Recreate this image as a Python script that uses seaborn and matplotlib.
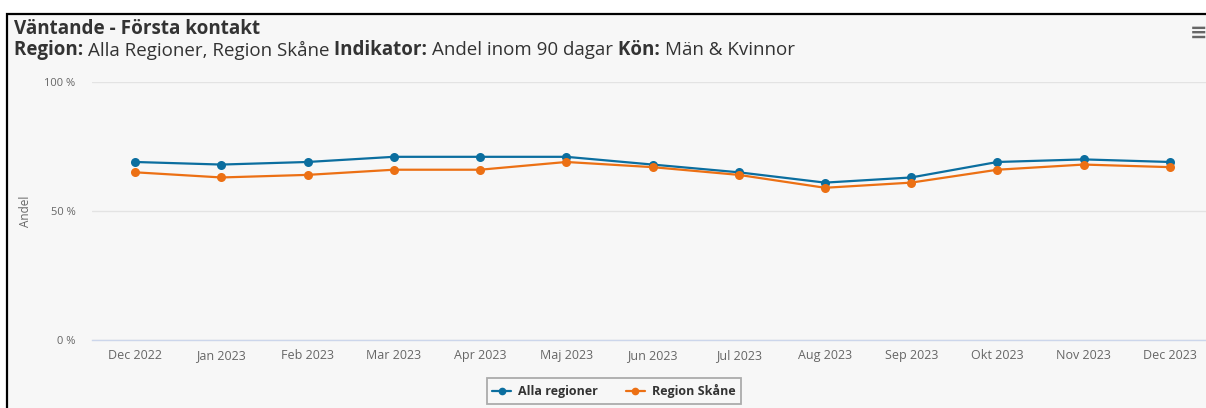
import pandas as pd
import matplotlib.pyplot as plt
import seaborn as sns
from matplotlib.patches import Rectangle
from matplotlib.lines import Line2D

months = ['Dec 2022', 'Jan 2023', 'Feb 2023', 'Mar 2023', 'Apr 2023', 'Maj 2023',
          'Jun 2023', 'Jul 2023', 'Aug 2023', 'Sep 2023', 'Okt 2023', 'Nov 2023', 'Dec 2023']
alla_regioner = [69, 68, 69, 71, 71, 71, 68, 65, 61, 63, 69, 70, 69]
region_skane = [65, 63, 64, 66, 66, 69, 67, 64, 59, 61, 66, 68, 67]
series_names = ['Alla regioner', 'Region Skåne']
colors = ['#0b6e9f', '#ec7014']
ytick_vals = [0, 50, 100]
ytick_labels = ['0 %', '50 %', '100 %']

df = pd.concat([
    pd.DataFrame({'Månad': months, 'Andel': alla_regioner, 'Serie': series_names[0]}),
    pd.DataFrame({'Månad': months, 'Andel': region_skane, 'Serie': series_names[1]}),
])

sns.set_style('white')
plt.rcParams['font.family'] = ['Open Sans', 'DejaVu Sans']

W, H = 1206, 408
fig = plt.figure(figsize=(W / 100, H / 100), dpi=100, facecolor='white')
bg = '#f7f7f7'
fig.patches.append(Rectangle((7 / W, -0.1), 1.2, (H - 14) / H + 0.1, transform=fig.transFigure,
                             facecolor=bg, edgecolor='black', linewidth=1.6, zorder=-5))

ax = fig.add_axes([92 / W, 68 / H, 1121 / W, 258 / H])
ax.set_facecolor(bg)
sns.lineplot(data=df, x='Månad', y='Andel', hue='Serie', palette=colors, marker='o',
             markersize=6.5, markeredgewidth=0, linewidth=1.6, sort=False, legend=False, ax=ax)

ax.set_xlim(-0.5, len(months) - 0.5)
ax.set_ylim(0, 100)
ax.set_yticks(ytick_vals)
ax.set_yticklabels(ytick_labels)
ax.yaxis.grid(True, color='#e3e3e3', linewidth=1)
ax.set_axisbelow(True)
for s in ['top', 'right', 'left']:
    ax.spines[s].set_visible(False)
ax.spines['bottom'].set_color('#ccd6eb')
ax.spines['bottom'].set_linewidth(1)
ax.tick_params(axis='y', length=0, pad=12, labelsize=8, labelcolor='#666666')
ax.tick_params(axis='x', length=0, labelbottom=False)
ax.set_xlabel('')
ax.set_ylabel('Andel', fontsize=8.5, color='#666666', labelpad=9)

# month labels on a common baseline (Open Sans 'J' descends and shifts top-aligned labels)
xticks = ax.get_xticks()
for xt, lab in zip(xticks, months):
    ax.text(xt, -0.073, lab, transform=ax.get_xaxis_transform(), ha='center', va='baseline',
            fontsize=9, color='#666666', clip_on=False)

# title and subtitle
fig.text(14 / W, 1 - 29 / H, 'Väntande - Första kontakt', fontsize=13.6, fontweight='bold',
         color='#333333', va='center')
renderer = fig.canvas.get_renderer()
parts = [('Region: ', 'bold'), ('Alla Regioner, Region Skåne ', 'normal'),
         ('Indikator: ', 'bold'), ('Andel inom 90 dagar ', 'normal'),
         ('Kön: ', 'bold'), ('Män & Kvinnor', 'normal')]
x = 14
for s, w in parts:
    t = fig.text(x / W, 1 - 50 / H, s, fontsize=13.5, fontweight=w, color='#333333', va='center')
    x += t.get_window_extent(renderer).width

fig.text(1199 / W, 1 - 33 / H, '≡', fontsize=15, color='#666666', ha='center', va='center',
         family='DejaVu Sans', fontweight='bold')

handles = [Line2D([], [], color=c, marker='o', markersize=4.5, linewidth=1.6) for c in colors]
leg = fig.legend(handles, series_names, loc='center', bbox_to_anchor=(614 / W, 1 - 391 / H),
                 ncol=2, frameon=True, fancybox=False, edgecolor='#999999', facecolor=bg,
                 handlelength=1.5, handletextpad=0.6, columnspacing=2.2, borderpad=0.45,
                 prop={'size': 9, 'weight': 'bold'})
leg.get_frame().set_linewidth(1.3)
for txt in leg.get_texts():
    txt.set_color('#333333')

fig.savefig('out.png', dpi=100, facecolor='white')
